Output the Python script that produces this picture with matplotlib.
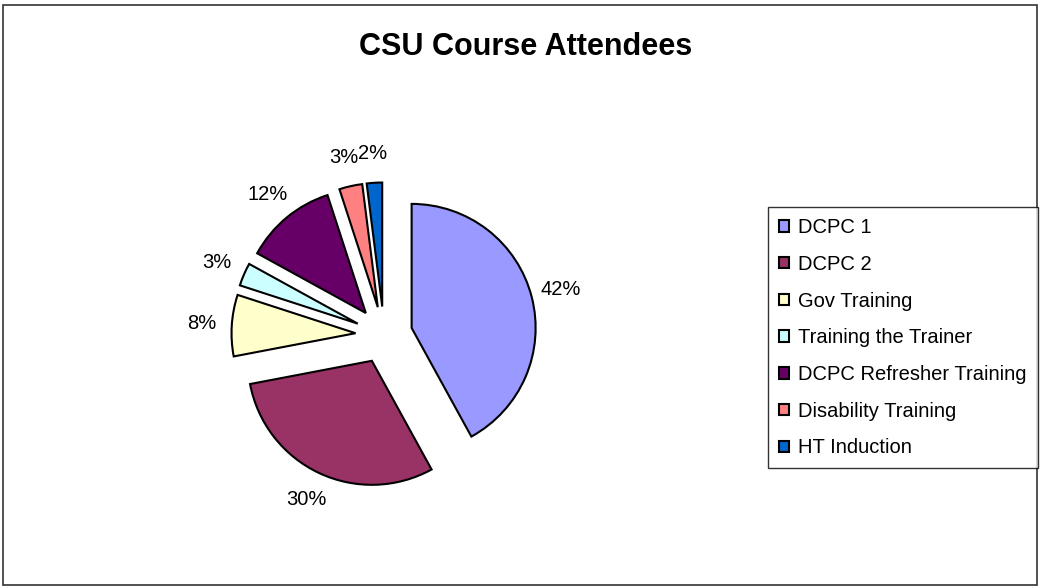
import matplotlib
matplotlib.use("Agg")
import matplotlib.pyplot as plt
from matplotlib.patches import Rectangle

# ---------------------------------------------------------
# Data (percent share of attendees)
# ---------------------------------------------------------
courses = ["DCPC 1", "DCPC 2", "Gov Training", "Training the Trainer",
           "DCPC Refresher Training", "Disability Training", "HT Induction"]
shares = [42, 30, 8, 3, 12, 3, 2]
colors = ["#9999FF", "#993366", "#FFFFCC", "#CCFFFF",
          "#660066", "#FF8080", "#0066CC"]

plt.rcParams["font.family"] = ["Liberation Sans", "DejaVu Sans"]

W, H = 1040, 588
fig = plt.figure(figsize=(W / 100, H / 100), dpi=100)

# outer chart border
fig.patches.append(Rectangle((3 / W, 3 / H), (W - 6) / W, (H - 8) / H,
                             transform=fig.transFigure, fill=False,
                             edgecolor="#333333", linewidth=1.2))

fig.text(526 / W, 1 - 47 / H, "CSU Course Attendees", ha="center",
         va="center", fontsize=22, fontweight="bold")

# pie axes: 1 data unit = R pixels, pie centre at (cx, cy) pixels
R = 124.0
cx, cy = 384.0, H - 335.0
ax = fig.add_axes([0, 0, 1, 1])
wedges, texts = ax.pie(shares, colors=colors, startangle=90,
                       counterclock=False, explode=[0.23] * len(shares),
                       labels=[f"{s}%" for s in shares], labeldistance=1.24,
                       wedgeprops=dict(edgecolor="black", linewidth=1.5),
                       textprops=dict(fontsize=14.5))
for t in texts:
    t.set_ha("center")
ax.set_aspect("auto")
ax.set_xlim(-cx / R, (W - cx) / R)
ax.set_ylim(-cy / R, (H - cy) / R)
ax.axis("off")

leg = fig.legend(wedges, courses, loc="upper right",
                 bbox_to_anchor=(1038 / W, 1 - 207 / H),
                 fontsize=14.5, frameon=True, fancybox=False,
                 edgecolor="black", handlelength=0.5, handleheight=0.5,
                 handletextpad=0.45, labelspacing=0.88, borderpad=0.55,
                 borderaxespad=0)
leg.get_frame().set_linewidth(1.0)

fig.savefig("out.png", dpi=100)
